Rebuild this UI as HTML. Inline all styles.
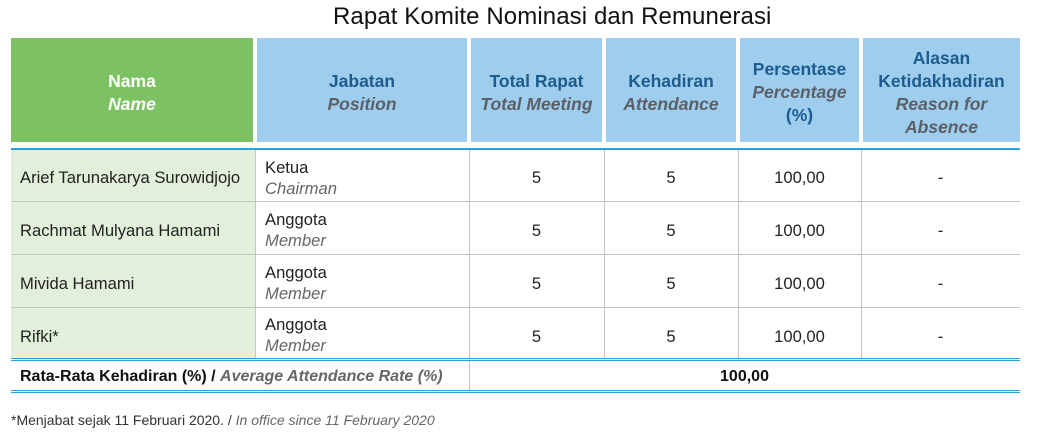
<!DOCTYPE html>
<html><head><meta charset="utf-8"><style>
*{margin:0;padding:0;box-sizing:border-box}
body{width:1048px;height:433px;background:#fff;position:relative;overflow:hidden;font-family:"Liberation Sans",sans-serif;color:#222}
.a{position:absolute}
.title{left:333px;top:3px;font-size:24px;color:#111;white-space:nowrap;letter-spacing:0.1px}
.h{top:38px;height:104px;padding-top:5px;display:flex;align-items:center;justify-content:center;text-align:center;font-weight:bold;font-size:17.5px;line-height:23px;color:#1d5c8f;background:#9ecdee}
.h i{color:#5b6068}
.h > div{white-space:nowrap}
.g{background:#7cc263;color:#fff}
.g i{color:#fff}
.hl{background:#2ba0d8;height:1px;left:11px;width:1009px}
.gr{background:#c4c4c4}
.t{font-size:16.6px;white-space:nowrap}
.c{text-align:center}
.it{color:#666;font-style:italic}
</style></head><body>
<div class="a title">Rapat Komite Nominasi dan Remunerasi</div>

<div class="a h g" style="left:11px;width:242px"><div>Nama<br><i>Name</i></div></div>
<div class="a h" style="left:257px;width:210px"><div>Jabatan<br><i>Position</i></div></div>
<div class="a h" style="left:471px;width:131px"><div>Total Rapat<br><i>Total Meeting</i></div></div>
<div class="a h" style="left:606px;width:130px"><div>Kehadiran<br><i>Attendance</i></div></div>
<div class="a h" style="left:740px;width:119px"><div>Persentase<br><i>Percentage</i><br>(%)</div></div>
<div class="a h" style="left:863px;width:157px"><div>Alasan<br>Ketidakhadiran<br><i>Reason for<br>Absence</i></div></div>

<div class="a" style="left:11px;top:150px;width:244px;height:208px;background:#e2efda"></div>
<div class="a" style="left:11px;top:148px;width:1009px;height:2px;background:#2ba0d8"></div>

<div class="a gr" style="left:11px;top:201px;width:1009px;height:1px"></div>
<div class="a gr" style="left:11px;top:254px;width:1009px;height:1px"></div>
<div class="a gr" style="left:11px;top:307px;width:1009px;height:1px"></div>

<div class="a gr" style="left:255px;top:150px;width:1px;height:208px"></div>
<div class="a gr" style="left:469px;top:150px;width:1px;height:208px"></div>
<div class="a gr" style="left:604px;top:150px;width:1px;height:208px"></div>
<div class="a gr" style="left:738px;top:150px;width:1px;height:208px"></div>
<div class="a gr" style="left:861px;top:150px;width:1px;height:208px"></div>
<div class="a gr" style="left:469px;top:360px;width:1px;height:30px"></div>

<div class="a hl" style="top:358px"></div>
<div class="a hl" style="top:360px"></div>
<div class="a hl" style="top:390px"></div>
<div class="a hl" style="top:392px"></div>

<!-- rows -->
<div class="a t" style="left:20px;top:168px">Arief Tarunakarya Surowidjojo</div>
<div class="a t" style="left:20px;top:221px">Rachmat Mulyana Hamami</div>
<div class="a t" style="left:20px;top:274px">Mivida Hamami</div>
<div class="a t" style="left:20px;top:327px">Rifki*</div>

<div class="a t" style="left:265px;top:157px;line-height:21px">Ketua<br><span class="it">Chairman</span></div>
<div class="a t" style="left:265px;top:209px;line-height:21px">Anggota<br><span class="it">Member</span></div>
<div class="a t" style="left:265px;top:262px;line-height:21px">Anggota<br><span class="it">Member</span></div>
<div class="a t" style="left:265px;top:314px;line-height:21px">Anggota<br><span class="it">Member</span></div>

<div class="a t c" style="left:469px;width:135px;top:168px">5</div>
<div class="a t c" style="left:469px;width:135px;top:221px">5</div>
<div class="a t c" style="left:469px;width:135px;top:274px">5</div>
<div class="a t c" style="left:469px;width:135px;top:327px">5</div>

<div class="a t c" style="left:604px;width:134px;top:168px">5</div>
<div class="a t c" style="left:604px;width:134px;top:221px">5</div>
<div class="a t c" style="left:604px;width:134px;top:274px">5</div>
<div class="a t c" style="left:604px;width:134px;top:327px">5</div>

<div class="a t c" style="left:738px;width:123px;top:168px">100,00</div>
<div class="a t c" style="left:738px;width:123px;top:221px">100,00</div>
<div class="a t c" style="left:738px;width:123px;top:274px">100,00</div>
<div class="a t c" style="left:738px;width:123px;top:327px">100,00</div>

<div class="a t c" style="left:861px;width:159px;top:168px">-</div>
<div class="a t c" style="left:861px;width:159px;top:221px">-</div>
<div class="a t c" style="left:861px;width:159px;top:274px">-</div>
<div class="a t c" style="left:861px;width:159px;top:327px">-</div>

<div class="a t" style="left:20px;top:368px;font-weight:bold;font-size:16px;color:#111">Rata-Rata Kehadiran (%) / <span style="font-style:italic;color:#666">Average Attendance Rate (%)</span></div>
<div class="a t c" style="left:469px;width:551px;top:368px;font-weight:bold;font-size:16px;color:#111">100,00</div>

<div class="a" style="left:11px;top:412px;font-size:14px;color:#333;white-space:nowrap">*Menjabat sejak 11 Februari 2020. / <span class="it">In office since 11 February 2020</span></div>
</body></html>
